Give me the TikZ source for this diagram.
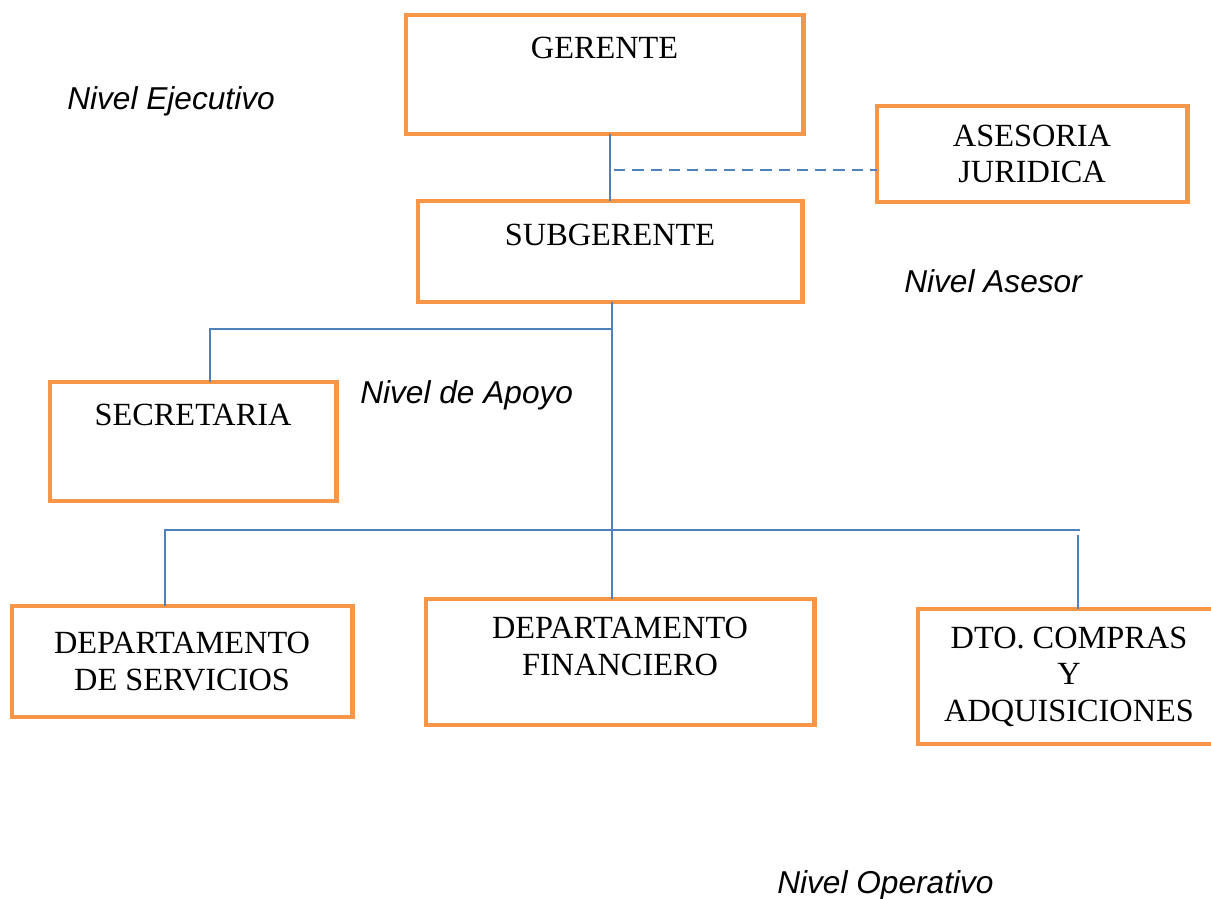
\documentclass[tikz,border=0pt]{standalone}
\usepackage{fontspec}
\setmainfont{Liberation Serif}
\newfontfamily\sansetiq{Liberation Sans}
\usepackage{xcolor}
\usepackage{tikz}
\usetikzlibrary{positioning, calc}
\definecolor{org_naranja}{RGB}{247, 150, 70}
\definecolor{org_azul}{RGB}{79, 129, 189}

\begin{document}
\begin{tikzpicture}[
        x=0.025cm, y=-0.025cm,
        cargo/.style={rectangle, draw=org_naranja, line width=3.5pt,
                      inner sep=0pt, outer sep=0pt, align=center,
                      anchor=north west, font=\fontsize{23}{26}\selectfont},
        nivel/.style={anchor=base west, inner sep=0pt,
                      font=\sansetiq\itshape\fontsize{22.5}{26}\selectfont},
        linea/.style={org_azul, line width=1.1pt},
      ]
        \useasboundingbox (0,0) rectangle (1211,899);

        \node[cargo, minimum width=9.925cm, text height=1.075cm, text depth=1.9cm]
          (gerente) at (406,15) {GERENTE};
        \node[cargo, minimum width=7.75cm, minimum height=2.4cm]
          (asesoria) at (877,106) {ASESORIA\\JURIDICA};
        \node[cargo, minimum width=9.6cm, text height=1.1cm, text depth=1.425cm]
          (subgerente) at (418,201) {SUBGERENTE};
        \node[cargo, minimum width=7.15cm, text height=1.075cm, text depth=1.9cm]
          (secretaria) at (50,382) {SECRETARIA};
        \node[cargo, minimum width=8.5cm, minimum height=2.775cm]
          (servicios) at (12,606) {DEPARTAMENTO\\DE SERVICIOS};
        \node[cargo, minimum width=9.7cm, minimum height=3.15cm, text depth=0.775cm]
          (financiero) at (426,599) {DEPARTAMENTO\\FINANCIERO};
        \node[cargo, minimum width=7.55cm, minimum height=3.375cm]
          (compras) at (918,609) {DTO. COMPRAS\\Y\\ADQUISICIONES};

        \coordinate (asesor) at (614,170);
        \coordinate (ramaA)  at (210,329);
        \coordinate (ramaB)  at (165,530);
        \coordinate (ramaC)  at (1080,530);
        \coordinate (ramaD)  at (1078,535);

        \draw[linea] (subgerente.north |- gerente.south) -- (subgerente.north);
        \draw[linea, dash pattern=on 8pt off 5pt] (asesor) -- (asesor -| asesoria.west);
        \draw[linea] ($(subgerente.south)+(2,0)$) -- ($(subgerente.south |- financiero.north)+(2,0)$);
        \draw[linea] ($(ramaA -| subgerente.south)+(3,0)$) -- (ramaA) -- (ramaA |- secretaria.north);
        \draw[linea] (ramaB |- servicios.north) -- (ramaB) -- (ramaC);
        \draw[linea] (ramaD) -- (ramaD |- compras.north);

        \node[nivel] (ejecutivo) at (67,110)  {Nivel Ejecutivo};
        \node[nivel] (nasesor)   at (904,293) {Nivel Asesor};
        \node[nivel] (apoyo)     at (360,403) {Nivel de Apoyo};
        \node[nivel] (operativo) at (777,893) {Nivel Operativo};
      \end{tikzpicture}
\end{document}
